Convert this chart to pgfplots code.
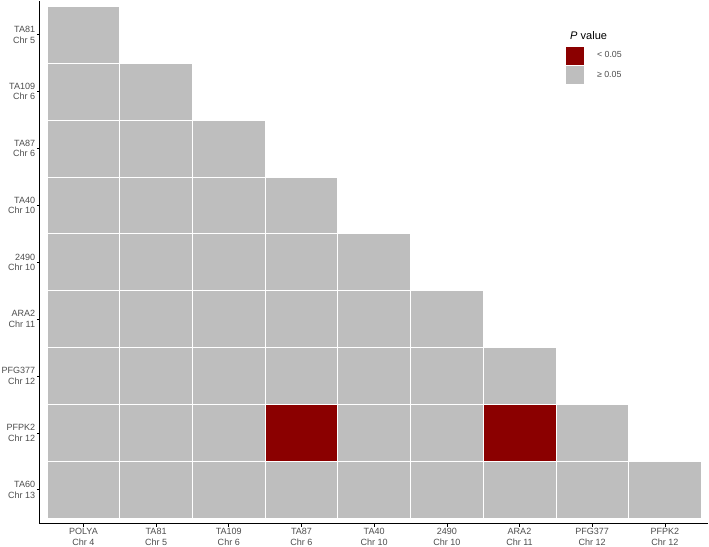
\documentclass[border=0pt]{standalone}
\usepackage{fontspec}
\setmainfont{Liberation Sans}
\usepackage{pgfplots}
\usepackage{pgfplotstable}
\pgfplotsset{compat=1.18}
\definecolor{cellgray}{HTML}{BEBEBE}
\definecolor{sigred}{HTML}{8B0000}
\definecolor{ticktext}{HTML}{4D4D4D}

\pgfplotstableread{
x y
0 8
0 7
1 7
0 6
1 6
2 6
0 5
1 5
2 5
3 5
0 4
1 4
2 4
3 4
4 4
0 3
1 3
2 3
3 3
4 3
5 3
0 2
1 2
2 2
3 2
4 2
5 2
6 2
0 1
1 1
2 1
4 1
5 1
7 1
0 0
1 0
2 0
3 0
4 0
5 0
6 0
7 0
8 0
}\graycells

\pgfplotstableread{
x y
3 1
6 1
}\redcells

\begin{document}
\begin{tikzpicture}
\begin{axis}[
  scale only axis, width=667pt, height=522pt,
  xmin=-0.6, xmax=8.6, ymin=-0.6, ymax=8.6,
  axis x line*=bottom, axis y line*=left,
  axis line style={-, line width=1.1pt, black},
  xtick={0,...,8}, ytick={0,...,8},
  xticklabels={{POLYA\\Chr 4},{TA81\\Chr 5},{TA109\\Chr 6},{TA87\\Chr 6},{TA40\\Chr 10},{2490\\Chr 10},{ARA2\\Chr 11},{PFG377\\Chr 12},{PFPK2\\Chr 12}},
  yticklabels={{TA60\\Chr 13},{PFPK2\\Chr 12},{PFG377\\Chr 12},{ARA2\\Chr 11},{2490\\Chr 10},{TA40\\Chr 10},{TA87\\Chr 6},{TA109\\Chr 6},{TA81\\Chr 5}},
  xticklabel style={align=center, font=\fontsize{9}{10.5}\selectfont, text=ticktext, inner sep=1.5pt},
  yticklabel style={align=right, font=\fontsize{9}{10.5}\selectfont, text=ticktext, inner sep=1.5pt},
  tick style={black, line width=0.6pt},
  tick align=outside, major tick length=3pt,
  legend style={at={(rel axis cs:0.786,0.912)}, anchor=north west, draw=none, fill=none,
    font=\fontsize{8.8}{10}\selectfont, text=ticktext, row sep=2pt, inner sep=0pt,
    nodes={inner sep=0pt}, /tikz/every odd column/.append style={column sep=14pt}},
  legend cell align=left,
]
\addplot[forget plot, only marks, mark=square*, mark size=28.37pt,
  mark options={xscale=1.2778, fill=cellgray, draw=white, line width=0.6pt}] table[x=x,y=y] {\graycells};
\addplot[forget plot, only marks, mark=square*, mark size=28.37pt,
  mark options={xscale=1.2778, fill=sigred, draw=white, line width=0.6pt}] table[x=x,y=y] {\redcells};
\addlegendimage{legend image code/.code={\fill[sigred] (0pt,-8.5pt) rectangle (17pt,8.5pt);}}
\addlegendentry{< 0.05}
\addlegendimage{legend image code/.code={\fill[cellgray] (0pt,-8.5pt) rectangle (17pt,8.5pt);}}
\addlegendentry{≥ 0.05}
\node[anchor=west, font=\fontsize{11}{13}\selectfont, inner sep=0pt] at (rel axis cs:0.793,0.933) {\textit{P} value};
\end{axis}
\end{tikzpicture}
\end{document}
